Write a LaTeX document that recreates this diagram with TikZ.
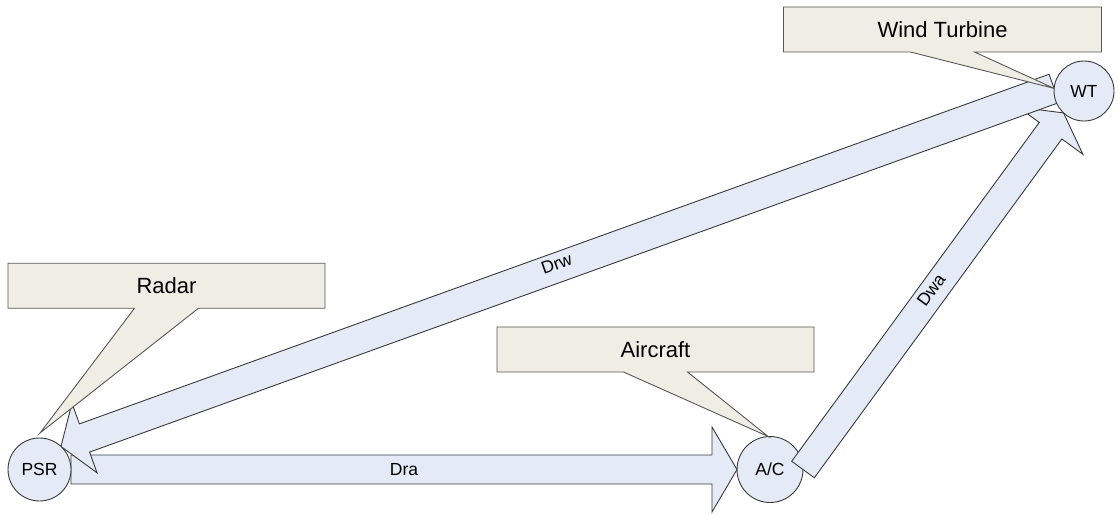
\documentclass[tikz,border=0pt]{standalone}
\usepackage{fontspec}
\setmainfont{Liberation Sans}
\usetikzlibrary{calc}

\definecolor{arrowfill}{HTML}{E4EBF7}
\definecolor{notefill}{HTML}{EEEEE4}
\definecolor{edgecol}{HTML}{3A3A3A}

\pgfdeclarelayer{lower}
\pgfdeclarelayer{notes}
\pgfdeclarelayer{upper}
\pgfsetlayers{lower,main,notes,upper}

\tikzset{
  station/.style={circle, draw=edgecol, fill=arrowfill, line width=0.9pt,
    inner sep=0pt, outer sep=0pt, font=\fontsize{17.5}{20}\selectfont},
  blockarrow/.style={draw=edgecol, fill=arrowfill, line width=0.9pt, line join=miter},
  notebox/.style={draw=edgecol!85, fill=notefill, line width=0.9pt, line join=miter},
  notetext/.style={minimum width=317pt, minimum height=45pt, inner sep=0pt,
    outer sep=0pt, font=\fontsize{22}{26}\selectfont},
  arrowlabel/.style={font=\fontsize{17.5}{20}\selectfont, inner sep=0pt}
}

% block arrow: #1 tail, #2 tip, #3 half shaft width, #4 half head width,
% #5 head length, #6 label name, #7 label text, #8 label offset
\newcommand\blockarr[8]{%
  \coordinate (hb) at ($(#2)!#5!(#1)$);
  \draw[blockarrow] ($(#1)!#3!90:(#2)$) -- ($(hb)!#3!90:(#2)$)
    -- ($(hb)!#4!90:(#2)$) -- (#2) -- ($(hb)!#4!-90:(#2)$)
    -- ($(hb)!#3!-90:(#2)$) -- ($(#1)!#3!-90:(#2)$) -- cycle;
  \path ($(#1)+(#8)$) -- ($(#2)+(#8)$) node[arrowlabel, midway, sloped] (#6) {#7};
}

% callout: #1 text node name, #2 pointer tip
\newcommand\notepointer[2]{%
  \draw[notebox] (#1.north west) -- (#1.north east) -- (#1.south east)
    -- ($(#1.south)+(32,0)$) -- (#2) -- ($(#1.south)+(-32,0)$)
    -- (#1.south west) -- cycle;
}

\begin{document}
\begin{tikzpicture}[x=1pt, y=-1pt]
  \useasboundingbox (0,0) rectangle (1118,515);

  % stations
  \begin{pgfonlayer}{lower}
    \node[station, minimum size=66pt] (ac) at (770,469.5) {A/C};
  \end{pgfonlayer}
  \begin{pgfonlayer}{upper}
    \node[station, minimum size=63pt] (psr) at (39.5,469.5) {PSR};
    \node[station, minimum size=60pt] (wt) at (1084,91) {WT};
  \end{pgfonlayer}

  % anchor points of the arrows
  \coordinate (dwaTail) at (ac.east);
  \coordinate (dwaTip) at (wt.227);
  \coordinate (draTail) at (psr.east);
  \coordinate (draTip) at (ac.west);
  \coordinate (drwTail) at (wt.175);
  \coordinate (drwTip) at (psr.47);

  % distance arrows
  \blockarr{dwaTail}{dwaTip}{14pt}{40pt}{22pt}{dwa}{Dwa}{-2,-1}
  \blockarr{draTail}{draTip}{14.5pt}{42.5pt}{25pt}{dra}{Dra}{0,0}
  \blockarr{drwTail}{drwTip}{15pt}{37pt}{25pt}{drw}{Drw}{-1,-4}

  % callouts
  \begin{pgfonlayer}{upper}
    \node[notetext] (radar) at (166.5,285.75) {Radar};
    \node[notetext] (aircraft) at (655.5,349.5) {Aircraft};
    \node[notetext, minimum width=318pt] (turbine) at (942.5,29.5) {Wind Turbine};
  \end{pgfonlayer}
  \coordinate (radarTip) at ($(psr.north)+(0.5,-5)$);
  \coordinate (aircraftTip) at (ac.93);
  \coordinate (turbineTip) at (wt.175);
  \begin{pgfonlayer}{notes}
    \notepointer{radar}{radarTip}
    \notepointer{aircraft}{aircraftTip}
    \notepointer{turbine}{turbineTip}
  \end{pgfonlayer}
\end{tikzpicture}
\end{document}
